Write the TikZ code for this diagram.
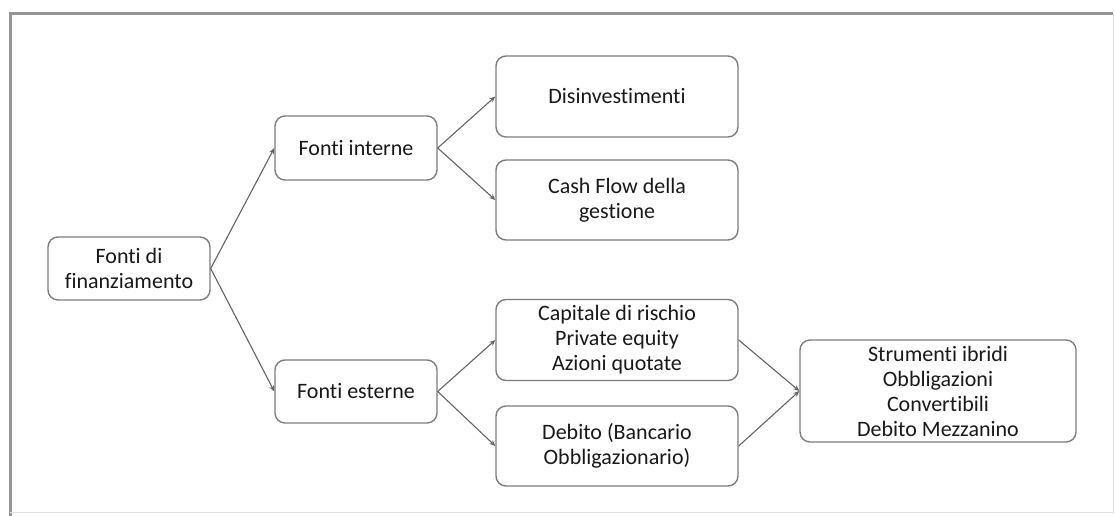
\documentclass[tikz,border=0pt]{standalone}
\usepackage{fontspec}
\setmainfont{Carlito}[Ligatures=NoCommon]
\usetikzlibrary{arrows.meta}
\definecolor{boxgray}{RGB}{125,125,125}
\definecolor{framegray}{RGB}{150,150,150}
\definecolor{linegray}{RGB}{100,100,100}
\begin{document}
\begin{tikzpicture}[x=1pt,y=-1pt,
  box/.style={draw=boxgray, line width=1.4pt, rounded corners=10pt, align=center,
    font=\fontsize{22}{25}\selectfont, inner sep=0pt, text=black!90},
  conn/.style={draw=linegray, line width=1.1pt, -{Stealth[length=6pt,width=5pt]}}]
\useasboundingbox (0,0) rectangle (1115,516);
\fill[white] (0,0) rectangle (1115,516);
% frame
\draw[framegray, line width=3pt] (10,516) -- (10,14) -- (1113,14);
\draw[black!12, line width=1pt] (1113,14) -- (1113,512) -- (10,512);
% nodes
\node[box, minimum width=162pt, minimum height=63pt] (ff) at (129,268.5) {Fonti di\\finanziamento};
\node[box, minimum width=162pt, minimum height=64pt] (fi) at (356,148) {Fonti interne};
\node[box, minimum width=162pt, minimum height=63pt] (fe) at (356,391.5) {Fonti esterne};
\node[box, minimum width=242pt, minimum height=81pt] (dis) at (617,96.5) {Disinvestimenti};
\node[box, minimum width=242pt, minimum height=80pt] (cf) at (617,200) {Cash Flow della\\gestione};
\node[box, minimum width=242pt, minimum height=81pt] (cap) at (617,340) {Capitale di rischio\\Private equity\\Azioni quotate};
\node[box, minimum width=242pt, minimum height=80pt] (deb) at (617,446) {Debito (Bancario\\Obbligazionario)};
\node[box, minimum width=276pt, minimum height=102pt] (str) at (938,391) {Strumenti ibridi\\Obbligazioni\\Convertibili\\Debito Mezzanino};
% connectors
\draw[conn] (ff.east) -- (fi.west);
\draw[conn] (ff.east) -- (fe.west);
\draw[conn] (fi.east) -- (dis.west);
\draw[conn] (fi.east) -- (cf.west);
\draw[conn] (fe.east) -- (cap.west);
\draw[conn] (fe.east) -- (deb.west);
\draw[conn] (cap.east) -- (str.west);
\draw[conn] (deb.east) -- (str.west);
\end{tikzpicture}
\end{document}
